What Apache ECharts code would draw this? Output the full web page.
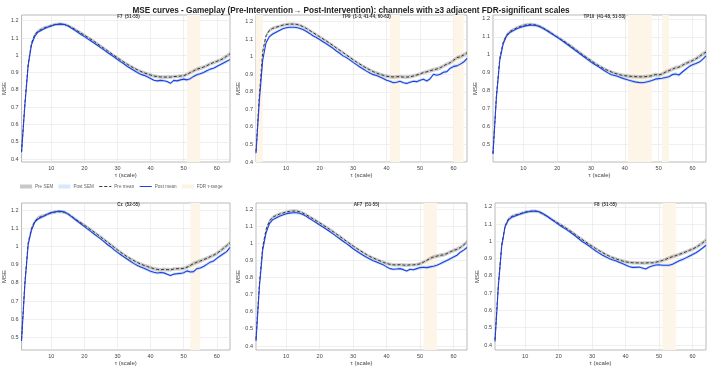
<!DOCTYPE html>
<html>
<head>
<meta charset="utf-8">
<script src="https://cdn.jsdelivr.net/npm/echarts@6/dist/echarts.min.js"></script>
<style>
  html, body { margin: 0; padding: 0; background: #fff; }
  #chart { width: 708px; height: 368px; }
</style>
</head>
<body>
<div id="chart"></div>
<script>
// scales (tau)
const taus = [1,2,3,4,5,6,7,8,9,10,11,12,13,14,15,16,17,18,19,20,21,22,23,24,25,26,27,28,29,30,31,32,
  33,34,35,36,37,38,39,40,41,42,43,44,45,46,47,48,49,50,51,52,53,54,55,56,57,58,59,60,61,62,63,64]

const xTicks = [10, 20, 30, 40, 50, 60]
const yTicks = [0.4, 0.5, 0.6, 0.7, 0.8, 0.9, 1, 1.1, 1.2]

// F7
const f7Pre = [0.44,0.72,0.95,1.07,1.12,1.14,1.15,1.16,1.165,1.172,1.178,1.18,1.181,1.178,1.172,1.162,
  1.152,1.14,1.128,1.116,1.104,1.092,1.08,1.066,1.052,1.039,1.026,1.012,0.999,0.986,0.972,0.96,
  0.948,0.936,0.926,0.916,0.907,0.899,0.892,0.886,0.88,0.877,0.875,0.874,0.874,0.874,0.877,0.878,
  0.88,0.882,0.89,0.9,0.91,0.92,0.925,0.932,0.94,0.95,0.958,0.965,0.972,0.982,0.995,1.008]
const f7Post = [0.44,0.71,0.94,1.06,1.11,1.135,1.145,1.155,1.163,1.17,1.177,1.179,1.18,1.178,1.17,1.158,
  1.146,1.133,1.12,1.108,1.095,1.083,1.07,1.057,1.043,1.03,1.016,1.003,0.99,0.976,0.962,0.95,
  0.935,0.924,0.912,0.9,0.89,0.884,0.876,0.866,0.856,0.852,0.855,0.853,0.848,0.838,0.855,0.852,
  0.858,0.862,0.858,0.865,0.878,0.888,0.893,0.9,0.91,0.92,0.925,0.935,0.945,0.955,0.965,0.975]

// TP9
const tp9Pre = [0.46,0.78,1.03,1.12,1.15,1.162,1.168,1.174,1.18,1.184,1.186,1.186,1.185,1.18,1.172,1.162,
  1.15,1.138,1.126,1.114,1.102,1.09,1.077,1.064,1.05,1.037,1.024,1.01,0.997,0.983,0.97,0.958,
  0.946,0.935,0.925,0.915,0.907,0.9,0.894,0.889,0.886,0.885,0.886,0.887,0.884,0.884,0.886,0.89,
  0.896,0.902,0.91,0.914,0.92,0.926,0.93,0.937,0.948,0.958,0.966,0.98,0.995,1.0,1.01,1.022]
const tp9Post = [0.45,0.75,0.98,1.08,1.115,1.13,1.14,1.15,1.16,1.165,1.168,1.168,1.167,1.162,1.155,1.145,
  1.133,1.12,1.11,1.098,1.086,1.074,1.061,1.048,1.033,1.02,1.005,0.995,0.982,0.968,0.955,0.942,
  0.93,0.918,0.908,0.898,0.893,0.885,0.876,0.866,0.86,0.852,0.855,0.86,0.852,0.848,0.855,0.86,
  0.858,0.866,0.872,0.862,0.875,0.9,0.895,0.9,0.912,0.915,0.935,0.945,0.948,0.958,0.97,0.99]

// TP10
const tp10Pre = [0.45,0.77,0.98,1.07,1.11,1.13,1.14,1.15,1.158,1.164,1.168,1.17,1.169,1.165,1.158,1.148,
  1.137,1.125,1.112,1.1,1.088,1.076,1.063,1.05,1.036,1.022,1.008,0.994,0.981,0.968,0.955,0.943,
  0.932,0.922,0.913,0.905,0.898,0.892,0.887,0.884,0.882,0.88,0.879,0.878,0.878,0.879,0.881,0.884,
  0.89,0.888,0.894,0.904,0.912,0.92,0.928,0.932,0.942,0.952,0.96,0.968,0.978,0.99,1.005,1.015]
const tp10Post = [0.45,0.76,0.97,1.06,1.105,1.125,1.135,1.145,1.152,1.158,1.163,1.165,1.165,1.162,1.155,1.145,
  1.134,1.122,1.11,1.098,1.085,1.072,1.058,1.044,1.03,1.016,1.002,0.988,0.974,0.96,0.948,0.936,
  0.924,0.912,0.9,0.89,0.885,0.88,0.872,0.866,0.86,0.855,0.85,0.847,0.845,0.848,0.852,0.858,
  0.865,0.868,0.87,0.874,0.878,0.89,0.894,0.888,0.905,0.92,0.935,0.945,0.952,0.96,0.975,0.995]

// Cz
const czPre = [0.49,0.8,1.02,1.1,1.14,1.158,1.166,1.172,1.18,1.186,1.19,1.192,1.192,1.188,1.18,1.168,
  1.155,1.142,1.13,1.118,1.105,1.092,1.079,1.066,1.052,1.038,1.024,1.01,0.996,0.982,0.968,0.955,
  0.943,0.932,0.922,0.912,0.904,0.896,0.89,0.884,0.878,0.874,0.872,0.874,0.873,0.872,0.876,0.878,
  0.878,0.88,0.886,0.896,0.906,0.914,0.92,0.928,0.935,0.944,0.952,0.962,0.975,0.99,1.005,1.02]
const czPost = [0.48,0.79,1.01,1.09,1.135,1.152,1.162,1.17,1.18,1.187,1.19,1.195,1.194,1.19,1.18,1.166,
  1.152,1.138,1.124,1.11,1.096,1.082,1.068,1.055,1.041,1.026,1.01,0.998,0.982,0.968,0.955,0.942,
  0.93,0.918,0.906,0.896,0.888,0.88,0.872,0.864,0.858,0.854,0.857,0.855,0.848,0.84,0.848,0.85,
  0.852,0.856,0.866,0.86,0.862,0.878,0.882,0.89,0.902,0.914,0.92,0.935,0.948,0.96,0.972,0.995]

// AF7
const af7Pre = [0.44,0.76,0.98,1.08,1.13,1.152,1.162,1.17,1.176,1.182,1.186,1.188,1.188,1.184,1.176,1.166,
  1.155,1.143,1.131,1.119,1.107,1.094,1.081,1.068,1.054,1.04,1.026,1.012,0.998,0.984,0.971,0.958,
  0.946,0.934,0.923,0.914,0.905,0.897,0.889,0.882,0.877,0.874,0.874,0.875,0.873,0.872,0.874,0.874,
  0.876,0.88,0.89,0.9,0.912,0.92,0.925,0.93,0.932,0.94,0.95,0.958,0.965,0.975,0.99,1.008]
const af7Post = [0.43,0.74,0.96,1.06,1.115,1.138,1.148,1.158,1.165,1.172,1.176,1.178,1.178,1.175,1.168,1.157,
  1.145,1.132,1.12,1.107,1.095,1.082,1.069,1.055,1.04,1.026,1.012,0.998,0.984,0.968,0.955,0.942,
  0.93,0.918,0.908,0.898,0.89,0.882,0.874,0.862,0.852,0.848,0.85,0.852,0.846,0.838,0.848,0.845,
  0.852,0.858,0.86,0.858,0.862,0.866,0.872,0.88,0.89,0.9,0.91,0.92,0.93,0.948,0.96,0.975]

// F8
const f8Pre = [0.43,0.75,0.98,1.09,1.13,1.145,1.152,1.158,1.164,1.17,1.174,1.176,1.176,1.172,1.163,1.152,
  1.14,1.128,1.116,1.104,1.092,1.08,1.067,1.054,1.04,1.026,1.012,0.998,0.985,0.972,0.96,0.948,
  0.937,0.926,0.916,0.907,0.9,0.893,0.887,0.882,0.879,0.877,0.876,0.876,0.875,0.875,0.877,0.876,
  0.88,0.884,0.89,0.897,0.905,0.912,0.918,0.925,0.932,0.94,0.948,0.956,0.966,0.978,0.992,1.008]
const f8Post = [0.42,0.74,0.97,1.085,1.125,1.14,1.148,1.155,1.162,1.168,1.172,1.175,1.176,1.174,1.165,1.153,
  1.14,1.126,1.112,1.098,1.085,1.073,1.06,1.046,1.032,1.016,1.0,0.988,0.975,0.96,0.946,0.934,
  0.922,0.912,0.902,0.894,0.888,0.88,0.872,0.864,0.855,0.85,0.85,0.852,0.846,0.84,0.852,0.858,
  0.864,0.865,0.862,0.862,0.862,0.868,0.878,0.888,0.895,0.905,0.915,0.925,0.935,0.948,0.962,0.978]

// standard errors
const semPre = [0.010,0.012,0.013,0.012,0.011,0.010,0.010,0.009,0.009,0.009,0.009,0.009,0.009,0.009,0.009,0.009,
  0.009,0.009,0.009,0.009,0.009,0.009,0.009,0.009,0.009,0.009,0.009,0.009,0.009,0.009,0.009,0.009,
  0.009,0.009,0.009,0.009,0.010,0.010,0.010,0.010,0.010,0.010,0.010,0.010,0.010,0.010,0.010,0.010,
  0.010,0.010,0.010,0.010,0.011,0.011,0.011,0.011,0.011,0.011,0.011,0.011,0.011,0.012,0.012,0.012]
const semPost = [0.009,0.011,0.012,0.011,0.010,0.009,0.009,0.008,0.008,0.008,0.008,0.008,0.008,0.008,0.008,0.008,
  0.008,0.008,0.008,0.008,0.008,0.008,0.008,0.008,0.008,0.008,0.008,0.008,0.008,0.008,0.008,0.008,
  0.008,0.008,0.008,0.008,0.008,0.008,0.008,0.008,0.008,0.008,0.008,0.008,0.008,0.008,0.008,0.008,
  0.009,0.009,0.009,0.009,0.009,0.009,0.009,0.009,0.009,0.009,0.009,0.009,0.009,0.009,0.009,0.009]

// FDR-significant tau ranges
const f7Fdr = [[51, 55]]
const tp9Fdr = [[1, 3], [41, 44], [60, 63]]
const tp10Fdr = [[41, 48], [51, 53]]
const czFdr = [[52, 55]]
const af7Fdr = [[51, 55]]
const f8Fdr = [[51, 55]]

const panelTitles = ['F7  (51-55)', 'TP9  (1-3, 41-44, 60-63)', 'TP10  (41-48, 51-53)',
  'Cz  (52-55)', 'AF7  (51-55)', 'F8  (51-55)']

const panels = [
  { pre: f7Pre, post: f7Post, fdr: f7Fdr, ylim: [0.383, 1.233], left: 17, top: 15, width: 213 },
  { pre: tp9Pre, post: tp9Post, fdr: tp9Fdr, ylim: [0.4, 1.238], left: 256, top: 15, width: 211 },
  { pre: tp10Pre, post: tp10Post, fdr: tp10Fdr, ylim: [0.404, 1.222], left: 493, top: 15, width: 213 },
  { pre: czPre, post: czPost, fdr: czFdr, ylim: [0.43, 1.24], left: 17, top: 203, width: 213 },
  { pre: af7Pre, post: af7Post, fdr: af7Fdr, ylim: [0.377, 1.235], left: 256, top: 203, width: 211 },
  { pre: f8Pre, post: f8Post, fdr: f8Fdr, ylim: [0.371, 1.223], left: 495, top: 203, width: 211 }
]

const FONT = '"Liberation Sans", Arial, sans-serif'
const PRE_SEM = 'rgba(140,140,140,0.45)'
const POST_SEM = 'rgba(160,200,245,0.55)'
const FDR_COL = '#fdf5e7'
const POST_COL = '#1f3fe0'
const PRE_COL = '#333333'

let chart = echarts.init(document.getElementById('chart'), null, { renderer: 'canvas' })

const isTick = (idx, val) => xTicks.indexOf(Number(val)) >= 0

let grids = [], xAxes = [], yAxes = [], series = []
let titles = [{
  text: 'MSE curves - Gameplay (Pre-Intervention\u2192 Post-Intervention): channels with \u22653 adjacent FDR-significant scales',
  left: 346, top: 2, textAlign: 'center',
  textStyle: { fontFamily: FONT, fontSize: 8.2, fontWeight: 'bold', color: '#222' }
}]

panels.forEach((p, i) => {
  grids.push({ left: p.left, top: p.top, width: p.width, height: 147, show: true,
    borderColor: '#a8a8a8', borderWidth: 0.8, backgroundColor: 'transparent' })
  titles.push({
    text: panelTitles[i], left: p.left + p.width / 2, top: p.top - 5.5, textAlign: 'center',
    textStyle: { fontFamily: FONT, fontSize: 4.5, fontWeight: 'bold', color: '#333' }
  })
  xAxes.push({
    type: 'category', gridIndex: i, data: taus, boundaryGap: false,
    name: '\u03c4 (scale)', nameLocation: 'middle', nameGap: 10,
    nameTextStyle: { fontFamily: FONT, fontSize: 6, color: '#444' },
    axisLine: { show: false },
    axisTick: { show: false, interval: isTick },
    axisLabel: { interval: isTick, fontFamily: FONT, fontSize: 5.5, color: '#444', margin: 3 },
    splitLine: { show: true, interval: isTick, lineStyle: { color: '#e4e4e4', width: 0.6 } }
  })
  yAxes.push({
    type: 'value', gridIndex: i, min: p.ylim[0], max: p.ylim[1],
    name: 'MSE', nameLocation: 'middle', nameGap: 11,
    nameTextStyle: { fontFamily: FONT, fontSize: 6, color: '#444' },
    axisLine: { show: false },
    axisTick: { show: false, customValues: yTicks },
    axisLabel: { customValues: yTicks, fontFamily: FONT, fontSize: 5.5, color: '#444', margin: 3 },
    splitLine: { show: true, lineStyle: { color: '#e4e4e4', width: 0.6 } }
  })

  const base = { type: 'line', xAxisIndex: i, yAxisIndex: i, symbol: 'none', silent: true, animation: false }
  series.push(Object.assign({}, base, {
    name: 'FDR \u03c4-range', data: [], itemStyle: { color: FDR_COL },
    markArea: { silent: true, itemStyle: { color: FDR_COL },
      data: p.fdr.map(r => [{ xAxis: String(r[0]) }, { xAxis: String(r[1]) }]) }
  }))
  series.push(Object.assign({}, base, {
    name: 'preLow' + i, stack: 'pre' + i, lineStyle: { width: 0, opacity: 0 },
    data: p.pre.map((v, k) => v - semPre[k])
  }))
  series.push(Object.assign({}, base, {
    name: 'Pre SEM', stack: 'pre' + i, lineStyle: { width: 0, opacity: 0 }, itemStyle: { color: PRE_SEM },
    areaStyle: { color: PRE_SEM, opacity: 1 },
    data: semPre.map(s => 2 * s)
  }))
  series.push(Object.assign({}, base, {
    name: 'postLow' + i, stack: 'post' + i, lineStyle: { width: 0, opacity: 0 },
    data: p.post.map((v, k) => v - semPost[k])
  }))
  series.push(Object.assign({}, base, {
    name: 'Post SEM', stack: 'post' + i, lineStyle: { width: 0, opacity: 0 }, itemStyle: { color: POST_SEM },
    areaStyle: { color: POST_SEM, opacity: 1 },
    data: semPost.map(s => 2 * s)
  }))
  series.push(Object.assign({}, base, {
    name: 'Pre mean', itemStyle: { color: PRE_COL },
    lineStyle: { color: PRE_COL, width: 1, type: [3, 2] },
    data: p.pre
  }))
  series.push(Object.assign({}, base, {
    name: 'Post mean', itemStyle: { color: POST_COL },
    lineStyle: { color: POST_COL, width: 1.1 },
    data: p.post
  }))
})

let option = {
  backgroundColor: '#fff',
  animation: false,
  title: titles,
  legend: {
    left: 20, top: 184, padding: 0, itemWidth: 12, itemHeight: 4, itemGap: 5,
    selectedMode: false,
    textStyle: { fontFamily: FONT, fontSize: 4.6, color: '#666', padding: [0, 0, 0, -2] },
    data: [
      { name: 'Pre SEM', icon: 'rect', itemStyle: { color: '#c8c8c8' } },
      { name: 'Post SEM', icon: 'rect', itemStyle: { color: '#d6e8fb' } },
      { name: 'Pre mean', lineStyle: { width: 1 }, itemStyle: { opacity: 0 } },
      { name: 'Post mean', lineStyle: { width: 1 }, itemStyle: { opacity: 0 } },
      { name: 'FDR \u03c4-range', icon: 'rect', itemStyle: { color: '#fdf3e0' } }
    ]
  },
  grid: grids,
  xAxis: xAxes,
  yAxis: yAxes,
  series: series
}

chart.setOption(option)
</script>
</body>
</html>
